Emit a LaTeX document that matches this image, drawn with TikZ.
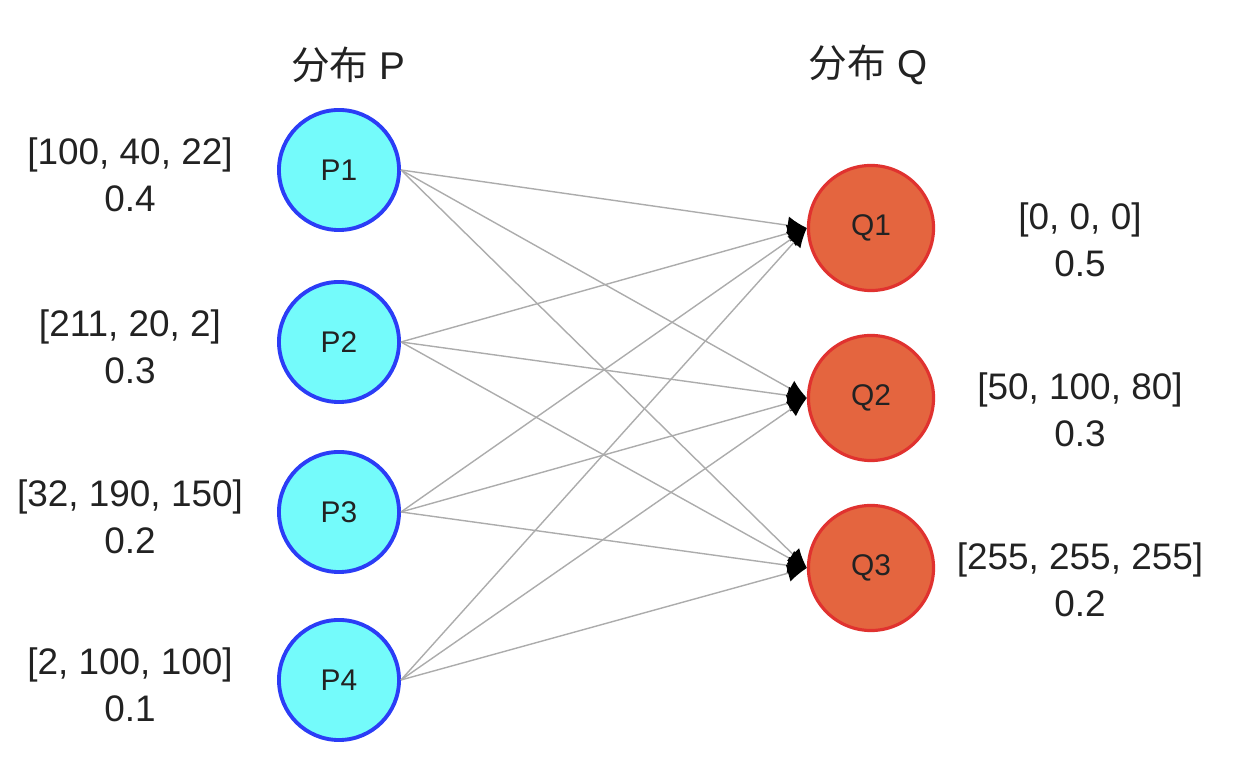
\documentclass[tikz,border=0pt]{standalone}
\usepackage{fontspec}
\setmainfont{Liberation Sans}
\newfontfamily\cjkfont{Noto Sans CJK SC}
\usetikzlibrary{arrows.meta}

\definecolor{pcyan}{HTML}{74FBFB}
\definecolor{pblue}{HTML}{2B3DF6}
\definecolor{qfill}{HTML}{E4653F}
\definecolor{qdraw}{HTML}{E0322F}
\definecolor{txtgray}{HTML}{222222}

\begin{document}
\begin{tikzpicture}[x=0.01cm,y=-0.01cm,
    pnode/.style={circle,draw=pblue,fill=pcyan,line width=1.1pt,minimum size=1.2cm,inner sep=0pt,font=\fontsize{8.5}{10}\selectfont,text=txtgray},
    qnode/.style={circle,draw=qdraw,fill=qfill,line width=0.9pt,minimum size=1.25cm,inner sep=0pt,font=\fontsize{8.5}{10}\selectfont,text=txtgray},
    vec/.style={align=center,font=\fontsize{10.5}{13.4}\selectfont,text=txtgray},
    title/.style={font=\fontsize{11}{13}\selectfont,text=txtgray},
    link/.style={draw=gray!65,line width=0.4pt,-{Latex[black,length=5.5pt,width=5pt]}}]

        \useasboundingbox (0,0) rectangle (1238,774);

        % titles
        \node[title] (titleP) at (348,65) {{\cjkfont 分布} P};
        \node[title] (titleQ) at (868,65) {{\cjkfont 分布} Q};

        % distribution P
        \foreach \i/\y/\v/\p in {1/170/{[100, 40, 22]}/0.4, 2/342/{[211, 20, 2]}/0.3,
                                 3/512/{[32, 190, 150]}/0.2, 4/680/{[2, 100, 100]}/0.1}{
            \node[pnode] (P\i) at (339,\y) {P\i};
            \node[vec] (vecP\i) at (130,\y+5) {\v\\\p};
        }

        % distribution Q
        \foreach \j/\y/\v/\p in {1/228/{[0, 0, 0]}/0.5, 2/398/{[50, 100, 80]}/0.3,
                                 3/568/{[255, 255, 255]}/0.2}{
            \node[qnode] (Q\j) at (871,\y) {Q\j};
            \node[vec] (vecQ\j) at (1080,\y+12) {\v\\\p};
        }

        % transport links
        \foreach \i in {1,...,4}
            \foreach \j in {1,2,3}
                \draw[link] (P\i.east) -- (Q\j.west);

\end{tikzpicture}
\end{document}
